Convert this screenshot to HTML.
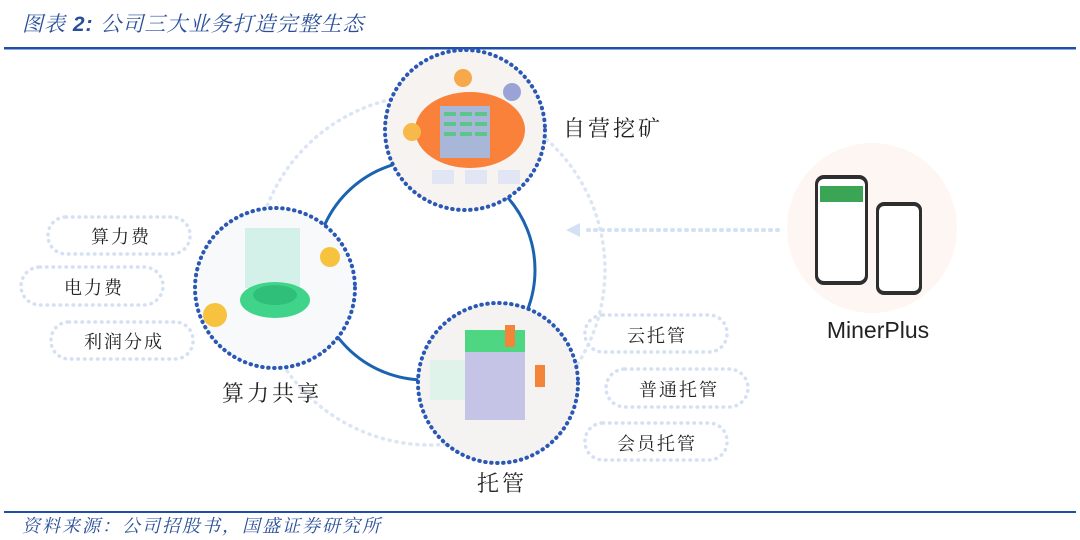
<!DOCTYPE html>
<html><head><meta charset="utf-8"><style>
body{margin:0;background:#fff;}
svg{display:block}
text{font-family:"Liberation Sans","Noto Serif CJK SC","Noto Sans CJK SC",sans-serif;}
</style></head><body>
<svg width="1080" height="540" viewBox="0 0 1080 540" xmlns="http://www.w3.org/2000/svg">
<text x="22" y="31" font-size="21" fill="#2a4f9a" font-style="italic" letter-spacing="1">图表 <tspan font-weight="bold">2:</tspan>  公司三大业务打造完整生态</text>
<rect x="4" y="47" width="1072" height="2.5" fill="#1f4fa6"/>
<rect x="4" y="511" width="1072" height="2" fill="#1f4fa6"/>
<text x="22" y="532" font-size="18" fill="#2a4f9a" font-style="italic" letter-spacing="2">资料来源：公司招股书，国盛证券研究所</text>

<circle cx="430" cy="270" r="175" fill="none" stroke="#dce5f3" stroke-width="3.5" stroke-dasharray="1 6" stroke-linecap="round"/>
<circle cx="425" cy="270" r="110" fill="none" stroke="#1a63b0" stroke-width="3"/>

<g fill="none" stroke="#d4e0f3" stroke-width="3.5" stroke-dasharray="0.5 6" stroke-linecap="round">
<rect x="48" y="217" width="142" height="37" rx="18"/>
<rect x="21" y="267" width="142" height="38" rx="19"/>
<rect x="51" y="322" width="142" height="37" rx="18"/>
<rect x="585" y="315" width="142" height="37" rx="18"/>
<rect x="606" y="369" width="142" height="38" rx="19"/>
<rect x="585" y="423" width="142" height="37" rx="18"/>
</g>
<g font-size="18" fill="#222" letter-spacing="2">
<text x="91" y="243">算力费</text>
<text x="64" y="294">电力费</text>
<text x="84" y="348">利润分成</text>
<text x="627" y="342">云托管</text>
<text x="639" y="396">普通托管</text>
<text x="617" y="450">会员托管</text>
</g>

<line x1="778" y1="230" x2="582" y2="230" stroke="#d4e0f3" stroke-width="4" stroke-dasharray="1 6" stroke-linecap="round"/>
<polygon points="566,230 580,223 580,237" fill="#d4e0f3"/>

<g>
<circle cx="465" cy="130" r="80" fill="#f6f3f1"/>
<ellipse cx="470" cy="130" rx="55" ry="38" fill="#f9813a"/>
<rect x="440" y="106" width="50" height="52" fill="#a8b6d8"/>
<g fill="#5cc58a"><rect x="444" y="112" width="12" height="4"/><rect x="444" y="122" width="12" height="4"/><rect x="444" y="132" width="12" height="4"/><rect x="460" y="112" width="12" height="4"/><rect x="460" y="122" width="12" height="4"/><rect x="460" y="132" width="12" height="4"/><rect x="475" y="112" width="12" height="4"/><rect x="475" y="122" width="12" height="4"/><rect x="475" y="132" width="12" height="4"/></g>
<circle cx="463" cy="78" r="9" fill="#f7a84a"/><circle cx="512" cy="92" r="9" fill="#9aa3d6"/><circle cx="412" cy="132" r="9" fill="#f7b94a"/>
<g fill="#e2e6f4"><rect x="432" y="170" width="22" height="14"/><rect x="465" y="170" width="22" height="14"/><rect x="498" y="170" width="22" height="14"/></g>
<circle cx="465" cy="130" r="80" fill="none" stroke="#2a58b4" stroke-width="4" stroke-dasharray="0.5 5.5" stroke-linecap="round"/>
</g>
<g>
<circle cx="275" cy="288" r="80" fill="#f8f9fa"/>
<rect x="245" y="228" width="55" height="60" fill="#c9efe4" opacity="0.8"/>
<ellipse cx="275" cy="300" rx="35" ry="18" fill="#3fd48a"/>
<ellipse cx="275" cy="295" rx="22" ry="10" fill="#2fbf79"/>
<circle cx="330" cy="257" r="10" fill="#f7c33e"/><circle cx="215" cy="315" r="12" fill="#f7c33e"/>
<circle cx="275" cy="288" r="80" fill="none" stroke="#2a58b4" stroke-width="4" stroke-dasharray="0.5 5.5" stroke-linecap="round"/>
</g>
<g>
<circle cx="498" cy="383" r="80" fill="#f5f3f2"/>
<rect x="465" y="340" width="60" height="80" fill="#c5c4e6"/>
<rect x="465" y="330" width="60" height="22" fill="#4fd682"/>
<rect x="430" y="360" width="35" height="40" fill="#dff3ea"/>
<rect x="505" y="325" width="10" height="22" fill="#f5843b"/><rect x="535" y="365" width="10" height="22" fill="#f5843b"/>
<circle cx="498" cy="383" r="80" fill="none" stroke="#2a58b4" stroke-width="4" stroke-dasharray="0.5 5.5" stroke-linecap="round"/>
</g>

<g font-size="22" fill="#222" letter-spacing="3">
<text x="563" y="136">自营挖矿</text>
<text x="222" y="401">算力共享</text>
<text x="477" y="491">托管</text>
</g>

<circle cx="872" cy="228" r="85" fill="#fdf6f2"/>
<rect x="815" y="175" width="53" height="110" rx="9" fill="#2e2e2e"/>
<rect x="818" y="179" width="47" height="102" rx="6" fill="#fff"/>
<rect x="820" y="186" width="43" height="16" fill="#3aa655"/>
<rect x="876" y="202" width="46" height="93" rx="8" fill="#2e2e2e"/>
<rect x="879" y="206" width="40" height="85" rx="5" fill="#fff"/>
<text x="878" y="338" font-size="23" fill="#222" text-anchor="middle">MinerPlus</text>
</svg>
</body></html>
